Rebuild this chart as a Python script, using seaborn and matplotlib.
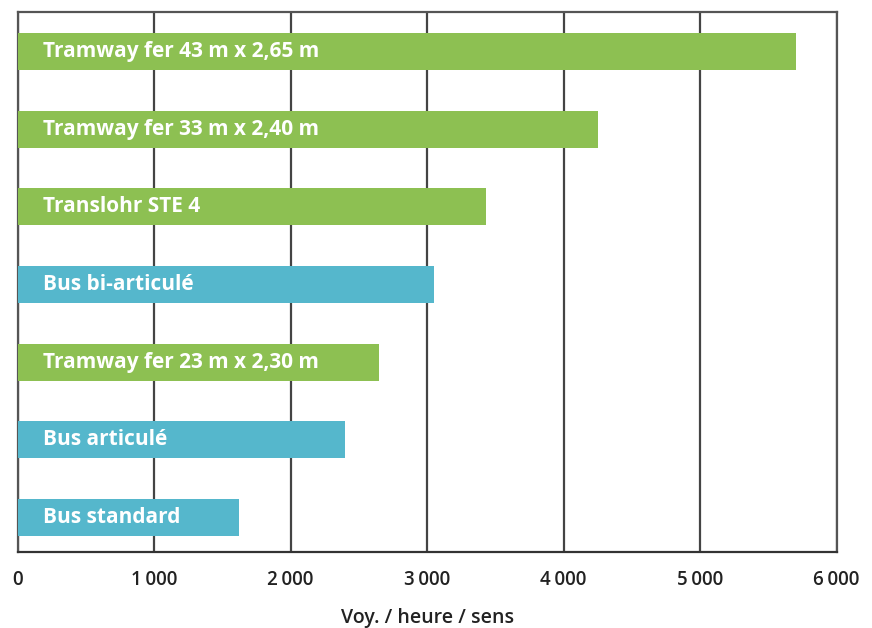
import matplotlib
matplotlib.use("Agg")
import matplotlib.pyplot as plt
import seaborn as sns
import pandas as pd

categories = ["Tramway fer 43 m x 2,65 m", "Tramway fer 33 m x 2,40 m", "Translohr STE 4",
              "Bus bi-articulé", "Tramway fer 23 m x 2,30 m", "Bus articulé", "Bus standard"]
values = [5700, 4250, 3430, 3050, 2650, 2400, 1620]
modes = ["tram", "tram", "tram", "bus", "tram", "bus", "bus"]
tick_values = [0, 1000, 2000, 3000, 4000, 5000, 6000]
tick_labels = ["0", "1\u2009000", "2\u2009000", "3\u2009000", "4\u2009000", "5\u2009000", "6\u2009000"]
palette = {"tram": "#8DC052", "bus": "#55B7CC"}

df = pd.DataFrame({"cat": categories, "val": values, "mode": modes})

sns.set_style("white")
plt.rcParams['font.family'] = ['Open Sans', 'DejaVu Sans']

fig = plt.figure(figsize=(8.72, 6.28), dpi=100)
ax = fig.add_axes([0.0201, 0.1215, 0.9394, 0.8594])

sns.barplot(data=df, x="val", y="cat", hue="mode", palette=palette, order=categories,
            orient="h", width=0.475, dodge=False, legend=False, ax=ax, zorder=3,
            edgecolor="none", saturation=1)

ax.set_xlim(0, 6000)
ax.set_ylim(6.44, -0.51)
ax.set_xticks(tick_values)
ax.set_xticklabels(tick_labels, fontsize=13.5, color="#222222", fontweight="semibold")
ax.set_yticks([])
ax.set_ylabel("")
ax.set_xlabel("Voy. / heure / sens", fontsize=14, color="#222222", fontweight="semibold")
ax.xaxis.set_label_coords(0.5, -0.105)

ax.grid(axis="x", color="#444444", linewidth=1.6, zorder=1)
ax.set_axisbelow(True)
for s in ax.spines.values():
    s.set_color("#555555")
    s.set_linewidth(1.6)
ax.spines["bottom"].set_color("#333333")
ax.tick_params(axis="x", length=4, width=1.4, color="#333333", pad=9, direction="out")

for i, c in enumerate(categories):
    ax.text(190, i, c, color="white", fontsize=15, fontweight="bold",
            va="center", ha="left", zorder=5)

fig.savefig("out.png", dpi=100)
